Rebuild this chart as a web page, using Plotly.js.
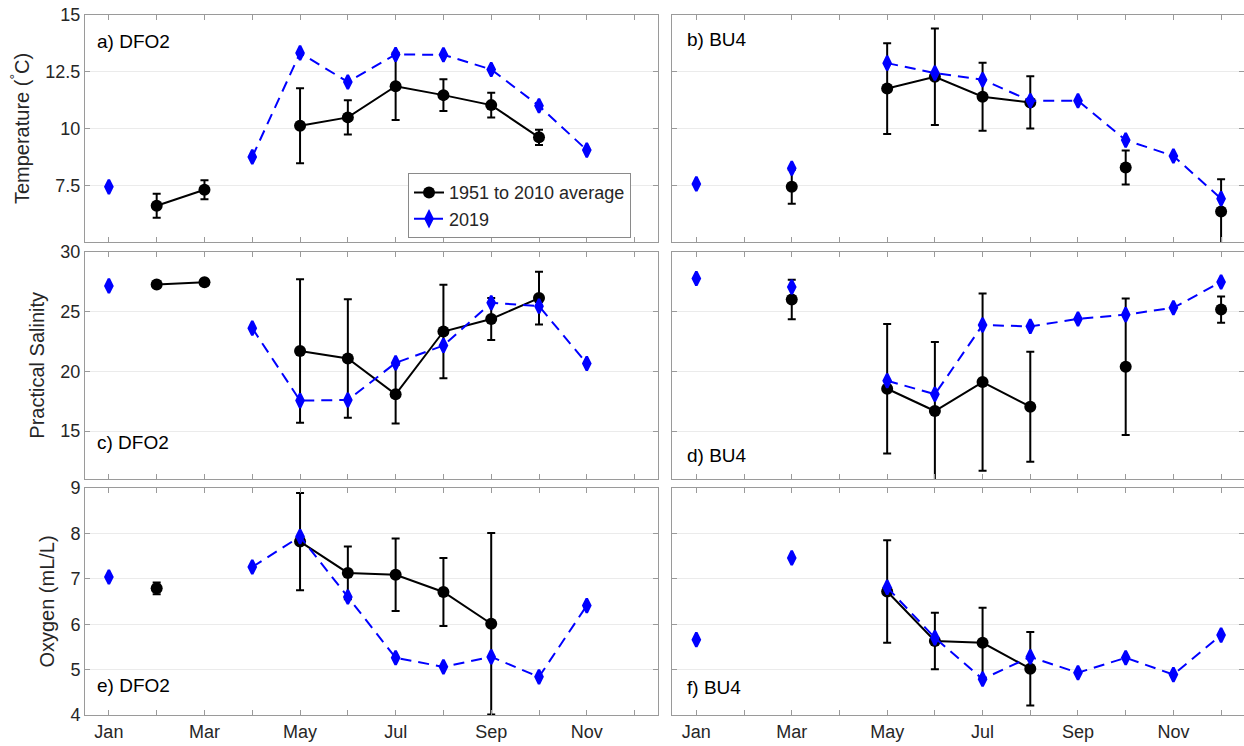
<!DOCTYPE html>
<html>
<head>
<meta charset="utf-8">
<script src="https://cdn.plot.ly/plotly-3.0.1.min.js"></script>
<style>
html,body{margin:0;padding:0;background:#fff;overflow:hidden;}
#chart{width:1244px;height:746px;}
</style>
</head>
<body>
<div id="chart"></div>
<script>
// ---- Data (month index 1..12; null = no value) ----
const months = [1,2,3,4,5,6,7,8,9,10,11,12];
const labelMonths = [1,3,5,7,9,11];
const monthTickText = ['Jan','Mar','May','Jul','Sep','Nov'];
const minorMonths = [2,4,6,8,10,12];

const tempDFO2Avg  = [null, 6.60, 7.30, null, 10.12, 10.49, 11.86, 11.47, 11.03, 9.61, null, null];
const tempDFO2Err  = [0, 0.53, 0.42, 0, 1.65, 0.75, 1.48, 0.70, 0.54, 0.34, 0, 0];
const tempDFO2_2019 = [7.43, null, null, 8.75, 13.33, 12.05, 13.26, 13.25, 12.60, 11.00, 9.05, null];

const tempBU4Avg   = [null, null, 7.43, null, 11.76, 12.28, 11.40, 11.15, null, 8.28, null, 6.34];
const tempBU4Err   = [0, 0, 0.75, 0, 2.00, 2.13, 1.50, 1.15, 0, 0.75, 0, 1.42];
const tempBU4_2019 = [7.56, null, 8.25, null, 12.88, 12.44, 12.15, 11.22, 11.22, 9.49, 8.79, 6.91];

const salDFO2Avg   = [null, 27.24, 27.44, null, 21.69, 21.07, 18.08, 23.32, 24.37, 26.11, null, null];
const salDFO2Err   = [0, 0, 0, 0, 6.00, 4.95, 2.45, 3.90, 1.75, 2.20, 0, 0];
const salDFO2_2019 = [27.13, null, null, 23.60, 17.55, 17.60, 20.70, 22.15, 25.72, 25.44, 20.65, null];

const salBU4Avg    = [null, null, 26.00, null, 18.54, 16.68, 19.10, 17.04, null, 20.37, null, 25.15];
const salBU4Err    = [0, 0, 1.65, 0, 5.40, 5.77, 7.40, 4.60, 0, 5.70, 0, 1.10];
const salBU4_2019  = [27.75, null, 27.04, null, 19.21, 18.08, 23.86, 23.75, 24.37, 24.73, 25.30, 27.46];

const oxyDFO2Avg   = [null, 6.79, null, null, 7.82, 7.13, 7.09, 6.71, 6.01, null, null, null];
const oxyDFO2Err   = [0, 0.13, 0, 0, 1.07, 0.58, 0.80, 0.75, 2.00, 0, 0, 0];
const oxyDFO2_2019 = [7.04, null, null, 7.26, 7.93, 6.60, 5.26, 5.06, 5.28, 4.84, 6.41, null];

const oxyBU4Avg    = [null, null, null, null, 6.72, 5.63, 5.59, 5.02, null, null, null, null];
const oxyBU4Err    = [0, 0, 0, 0, 1.13, 0.62, 0.77, 0.81, 0, 0, 0, 0];
const oxyBU4_2019  = [5.66, null, 7.46, null, 6.81, 5.70, 4.79, 5.28, 4.93, 5.26, 4.89, 5.76];

const avgName = '1951 to 2010 average';
const yearName = '2019';

// ---- Build traces ----
const FONT = '"Liberation Sans", Arial, Helvetica, sans-serif';
const panels = [
  {avg: tempDFO2Avg, err: tempDFO2Err, y19: tempDFO2_2019, ax: ''},
  {avg: tempBU4Avg,  err: tempBU4Err,  y19: tempBU4_2019,  ax: '2'},
  {avg: salDFO2Avg,  err: salDFO2Err,  y19: salDFO2_2019,  ax: '3'},
  {avg: salBU4Avg,   err: salBU4Err,   y19: salBU4_2019,   ax: '4'},
  {avg: oxyDFO2Avg,  err: oxyDFO2Err,  y19: oxyDFO2_2019,  ax: '5'},
  {avg: oxyBU4Avg,   err: oxyBU4Err,   y19: oxyBU4_2019,   ax: '6'}
];
const traces = [];
panels.forEach((p, i) => {
  traces.push({
    type: 'scatter', mode: 'lines+markers', name: avgName,
    x: months, y: p.avg, connectgaps: false,
    xaxis: 'x' + p.ax, yaxis: 'y' + p.ax,
    line: {color: '#000000', width: 2},
    marker: {symbol: 'circle', size: 12, color: '#000000'},
    error_y: {type: 'data', array: p.err, visible: true, color: '#000000', thickness: 2, width: 4},
    showlegend: i === 0, legendgroup: 'avg', cliponaxis: true
  });
  traces.push({
    type: 'scatter', mode: 'lines+markers', name: yearName,
    x: months, y: p.y19, connectgaps: false,
    xaxis: 'x' + p.ax, yaxis: 'y' + p.ax,
    line: {color: '#0000ff', width: 2, dash: '11px,7px'},
    marker: {symbol: 'diamond-tall', size: 10, color: '#0000ff', line: {color: '#0000ff', width: 2.5}},
    showlegend: i === 0, legendgroup: 'y19', cliponaxis: true
  });
});

// ---- Layout ----
const colL = [0, 0.4948], colR = [0.5069, 1];
const rowT = [0.6757, 1], rowM = [0.3371, 0.6621], rowB = [0, 0.3243];
const axisColor = '#9a9a9a';
const tickFont = {family: FONT, size: 18, color: '#262626'};

function xax(domain, anchor, showLabels, rng) {
  return {
    domain: domain, anchor: anchor, range: rng,
    tickmode: 'array', tickvals: labelMonths, ticktext: monthTickText,
    showticklabels: showLabels, ticks: 'inside', ticklen: 5, tickwidth: 1, tickcolor: axisColor,
    minor: {tickmode: 'array', tickvals: minorMonths, ticks: 'inside', ticklen: 5, tickwidth: 1,
            tickcolor: axisColor, showgrid: false},
    showline: true, linecolor: axisColor, linewidth: 1, mirror: 'ticks',
    showgrid: false, zeroline: false, tickfont: tickFont
  };
}
function yax(domain, anchor, rng, vals, showLabels, title) {
  const a = {
    domain: domain, anchor: anchor, range: rng,
    tickmode: 'array', tickvals: vals, ticktext: vals.map(String),
    showticklabels: showLabels, ticks: 'inside', ticklen: 5, tickwidth: 1, tickcolor: axisColor,
    showline: true, linecolor: axisColor, linewidth: 1, mirror: 'ticks',
    showgrid: true, gridcolor: '#ebebeb', gridwidth: 1, zeroline: false, tickfont: tickFont
  };
  if (title) a.title = {text: title, font: {family: FONT, size: 20, color: '#262626'}, standoff: 10};
  return a;
}
const tempTicks = [7.5, 10, 12.5, 15];
const salTicks = [15, 20, 25, 30];
const oxyTicks = [4, 5, 6, 7, 8, 9];

function lab(text, ax, x, y) {
  return {text: text, xref: 'x' + ax + ' domain', yref: 'y' + ax + ' domain', x: x, y: y,
          xanchor: 'left', yanchor: 'middle', showarrow: false,
          font: {family: FONT, size: 19, color: '#000000'}};
}

const layout = {
  width: 1244, height: 746,
  margin: {l: 85, r: 0, t: 15, b: 31},
  paper_bgcolor: '#ffffff', plot_bgcolor: '#ffffff',
  font: {family: FONT, color: '#262626'},
  showlegend: true,
  legend: {x: 0.2787, y: 0.774, xanchor: 'left', yanchor: 'top', xref: 'paper', yref: 'paper',
           bgcolor: '#ffffff', bordercolor: '#8a8a8a', borderwidth: 1,
           font: {family: FONT, size: 18, color: '#262626'}, tracegroupgap: 0, itemwidth: 30},
  xaxis:  xax(colL, 'y',  false, [0.5, 12.5]),
  xaxis2: xax(colR, 'y2', false, [0.5, 12.48]),
  xaxis3: xax(colL, 'y3', false, [0.5, 12.5]),
  xaxis4: xax(colR, 'y4', false, [0.5, 12.48]),
  xaxis5: xax(colL, 'y5', true,  [0.5, 12.5]),
  xaxis6: xax(colR, 'y6', true,  [0.5, 12.48]),
  yaxis:  yax(rowT, 'x',  [5, 15], tempTicks, true, 'Temperature (<sup>°</sup>C)'),
  yaxis2: yax(rowT, 'x2', [5, 15], tempTicks, false),
  yaxis3: yax(rowM, 'x3', [11, 30], salTicks, true, 'Practical Salinity'),
  yaxis4: yax(rowM, 'x4', [11, 30], salTicks, false),
  yaxis5: yax(rowB, 'x5', [4, 9], oxyTicks, true, 'Oxygen (mL/L)'),
  yaxis6: yax(rowB, 'x6', [4, 9], oxyTicks, false),
  annotations: [
    lab('a) DFO2', '',  0.017, 0.885),
    lab('b) BU4',  '2', 0.022, 0.89),
    lab('c) DFO2', '3', 0.017, 0.16),
    lab('d) BU4',  '4', 0.022, 0.105),
    lab('e) DFO2', '5', 0.017, 0.13),
    lab('f) BU4',  '6', 0.022, 0.123)
  ]
};

Plotly.newPlot('chart', traces, layout, {displayModeBar: false, staticPlot: true});
</script>
</body>
</html>
